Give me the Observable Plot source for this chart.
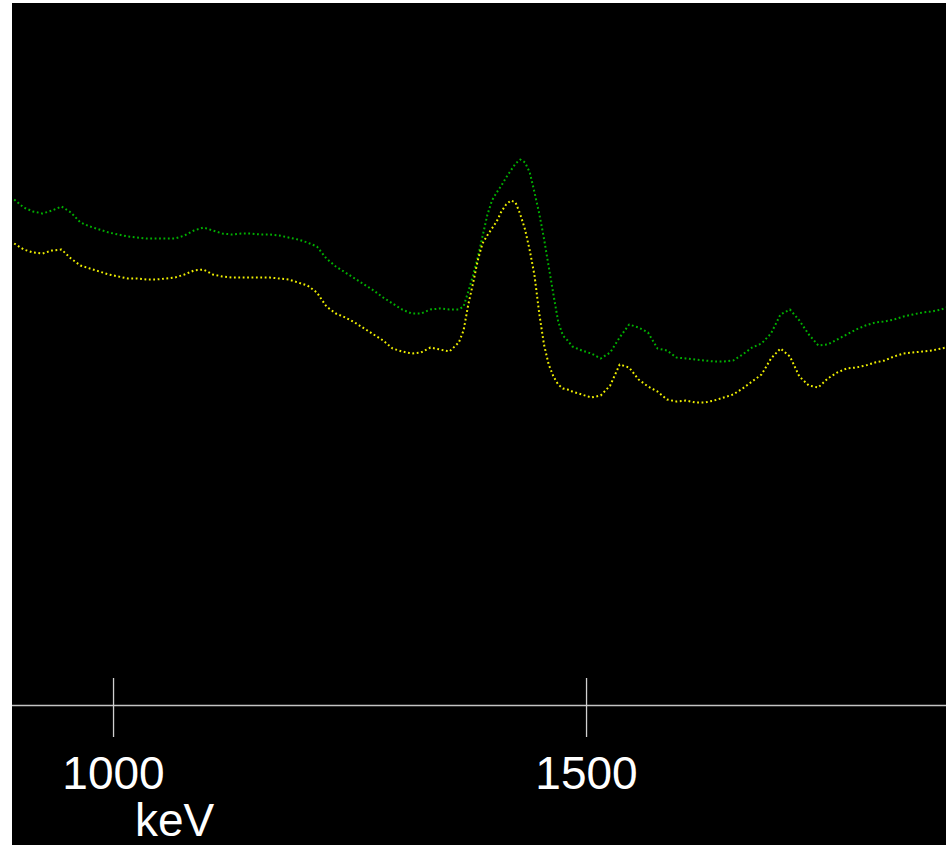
<!DOCTYPE html>
<html>
<head>
<meta charset="utf-8">
<script src="https://cdn.jsdelivr.net/npm/d3@7"></script>
<script src="https://cdn.jsdelivr.net/npm/@observablehq/plot@0.6"></script>
<style>
  html, body { margin: 0; padding: 0; background: #ffffff; }
  #chart { padding: 3px 0 0 12px; }
</style>
</head>
<body>
<div id="chart"></div>
<script>
// Energy channels (keV)
const energy = [
  895, 905, 915, 925, 935, 945, 955, 965, 975, 985,
  995, 1005, 1015, 1025, 1035, 1045, 1055, 1065, 1075, 1085,
  1095, 1105, 1115, 1125, 1135, 1145, 1155, 1165, 1175, 1185,
  1195, 1205, 1215, 1225, 1235, 1245, 1255, 1265, 1275, 1285,
  1295, 1305, 1315, 1325, 1335, 1345, 1355, 1365,
  1370, 1375, 1380, 1385, 1390, 1395, 1400, 1405, 1410, 1415,
  1420, 1425, 1430, 1435, 1440, 1445, 1450, 1455, 1460, 1465,
  1470, 1475, 1480, 1485,
  1495, 1505, 1515, 1525, 1535, 1545, 1555, 1565, 1575, 1585,
  1595, 1605, 1615, 1625, 1635, 1645, 1655, 1665, 1675, 1685,
  1695, 1705, 1715, 1725, 1735, 1745, 1755, 1765, 1775, 1785,
  1795, 1805, 1815, 1825, 1835, 1845, 1855, 1865, 1875, 1880
];

// Green spectrum (counts, arbitrary units)
const greenCounts = [
  506, 498, 494, 492, 495, 499, 493, 483, 479, 476,
  473, 471, 469, 468, 467, 467, 467, 467, 470, 475,
  478, 475, 472, 471, 472, 472, 471, 471, 470, 468,
  466, 463, 459, 447, 439, 433, 427, 421, 415, 408,
  402, 396, 392, 392, 396, 397, 396, 396,
  399, 414, 430, 448, 469, 490, 505, 513, 520, 528,
  535, 542, 546, 543, 533, 513, 492, 467, 439, 411,
  384, 370, 365, 359,
  355, 352, 347, 353, 368, 381, 378, 373, 357, 355,
  348, 347, 346, 345, 344, 344, 345, 351, 358, 362,
  372, 391, 396, 385, 371, 360, 361, 366, 371, 376,
  380, 383, 384, 386, 389, 391, 393, 394, 396, 398
];

// Yellow spectrum (counts, arbitrary units)
const yellowCounts = [
  462, 456, 453, 452, 455, 456, 447, 440, 437, 434,
  431, 429, 427, 427, 426, 426, 427, 428, 431, 435,
  436, 431, 429, 428, 428, 428, 428, 428, 427, 426,
  423, 420, 413, 399, 392, 388, 383, 377, 371, 365,
  357, 354, 352, 353, 358, 356, 354, 363,
  375, 401, 422, 445, 462, 470, 477, 484, 494, 501,
  505, 503, 491, 476, 455, 430, 392, 361, 341, 329,
  321, 317, 316, 314,
  311, 308, 310, 320, 341, 338, 326, 319, 314, 306,
  304, 305, 303, 303, 305, 308, 311, 317, 324, 331,
  347, 357, 349, 329, 320, 318, 327, 333, 337, 338,
  340, 343, 345, 349, 352, 353, 354, 355, 357, 358
];

const xTicks = [1000, 1500];
const xUnit = "keV";

const seriesColors = { green: "#00b000", yellow: "#f0f000" };

const rows = [];
energy.forEach((e, i) => {
  rows.push({ energy: e, counts: greenCounts[i], series: "green" });
});
energy.forEach((e, i) => {
  rows.push({ energy: e, counts: yellowCounts[i], series: "yellow" });
});

const font = "'Liberation Sans', Arial, sans-serif";

const chart = Plot.plot({
  width: 934,
  height: 842,
  marginLeft: 0,
  marginRight: 0,
  marginTop: 0,
  marginBottom: 140,
  style: { background: "#000000", display: "block", overflow: "visible" },
  x: { domain: [893.2, 1880.5], axis: null },
  y: { domain: [0, 702], axis: null },
  marks: [
    Plot.ruleY([0], { stroke: "#c4c4c4", strokeWidth: 1.6 }),
    Plot.ruleX(xTicks, { x: d => d, y1: 0, y2: 0, insetTop: -27, insetBottom: -32, stroke: "#d0d0d0", strokeWidth: 1.3 }),
    Plot.line(rows.filter(d => d.series === "green"), {
      x: "energy", y: "counts", stroke: seriesColors.green,
      strokeWidth: 2, strokeDasharray: "1.8,2.6", strokeLinecap: "butt", curve: "linear"
    }),
    Plot.line(rows.filter(d => d.series === "yellow"), {
      x: "energy", y: "counts", stroke: seriesColors.yellow,
      strokeWidth: 2, strokeDasharray: "1.8,2.6", strokeLinecap: "butt", curve: "linear"
    }),
    Plot.text(xTicks, {
      x: d => d, y: 0, dy: 83, text: d => String(d),
      fill: "#ffffff", fontSize: 46, fontFamily: font,
      textAnchor: "middle", lineAnchor: "bottom"
    }),
    Plot.text([xTicks[0]], {
      x: d => d, y: 0, dx: 61, dy: 130, text: () => xUnit,
      fill: "#ffffff", fontSize: 46, fontFamily: font,
      textAnchor: "middle", lineAnchor: "bottom"
    })
  ]
});

document.getElementById("chart").appendChild(chart);
</script>
</body>
</html>
